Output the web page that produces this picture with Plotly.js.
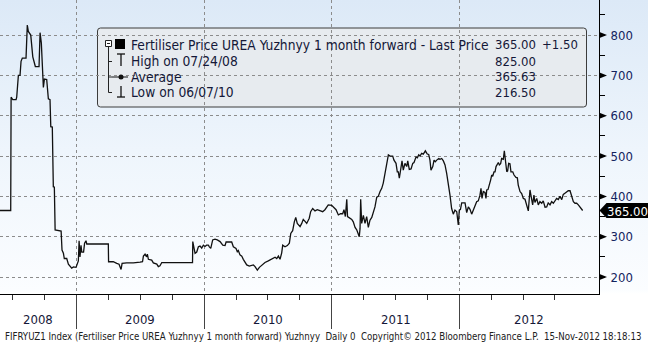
<!DOCTYPE html>
<html><head><meta charset="utf-8">
<script src="https://cdn.plot.ly/plotly-3.0.1.min.js"></script>
<style>
html,body{margin:0;padding:0;width:648px;height:344px;overflow:hidden;
background:linear-gradient(to bottom,#dce9f7 0px,#eef5fc 150px,#fbfdff 290px,#ffffff 294px,#ffffff 344px);}
#chart{width:648px;height:344px;}
</style></head><body><div id="chart"></div>
<script>
// ---- data (decimal year, price) ----
const years = [
2008.400,2008.484,2008.487,2008.500,2008.526,2008.531,2008.544,2008.557,2008.565,2008.575,
2008.604,2008.614,2008.622,2008.641,2008.657,2008.661,2008.677,2008.706,2008.714,2008.724,
2008.732,2008.740,2008.748,2008.766,2008.779,2008.792,2008.798,2008.810,2008.818,2008.826,
2008.832,2008.879,2008.886,2008.897,2008.904,2008.923,2008.936,2008.949,2008.962,2008.975,
2008.996,2009.014,2009.020,2009.027,2009.035,2009.041,2009.055,2009.063,2009.074,2009.080,
2009.249,2009.251,2009.288,2009.315,2009.333,2009.349,2009.357,2009.393,2009.445,2009.498,
2009.517,2009.524,2009.537,2009.549,2009.555,2009.563,2009.589,2009.602,2009.629,2009.641,
2009.654,2009.668,2009.909,2009.911,2009.921,2009.929,2009.942,2009.955,2009.968,2009.981,
2009.994,2010.007,2010.019,2010.033,2010.041,2010.052,2010.067,2010.085,2010.103,2010.125,
2010.146,2010.164,2010.172,2010.203,2010.216,2010.229,2010.250,2010.260,2010.268,2010.281,
2010.295,2010.307,2010.334,2010.354,2010.386,2010.399,2010.417,2010.433,2010.451,2010.477,
2010.503,2010.530,2010.556,2010.569,2010.582,2010.595,2010.608,2010.616,2010.634,2010.652,
2010.668,2010.679,2010.694,2010.707,2010.718,2010.730,2010.752,2010.765,2010.777,2010.791,
2010.804,2010.824,2010.835,2010.851,2010.869,2010.887,2010.908,2010.929,2010.947,2010.973,
2011.000,2011.013,2011.034,2011.052,2011.069,2011.086,2011.096,2011.107,2011.118,2011.124,
2011.138,2011.157,2011.169,2011.183,2011.196,2011.208,2011.216,2011.222,2011.227,2011.235,
2011.248,2011.261,2011.274,2011.287,2011.300,2011.314,2011.326,2011.339,2011.353,2011.365,
2011.379,2011.392,2011.404,2011.418,2011.431,2011.444,2011.457,2011.478,2011.488,2011.504,
2011.514,2011.522,2011.530,2011.541,2011.551,2011.561,2011.574,2011.588,2011.596,2011.608,
2011.622,2011.635,2011.645,2011.661,2011.671,2011.682,2011.692,2011.705,2011.718,2011.734,
2011.749,2011.760,2011.770,2011.778,2011.792,2011.802,2011.812,2011.823,2011.839,2011.849,
2011.862,2011.875,2011.888,2011.901,2011.914,2011.927,2011.940,2011.953,2011.966,2011.980,
2011.992,2012.000,2012.009,2012.019,2012.045,2012.058,2012.071,2012.084,2012.097,2012.110,
2012.123,2012.136,2012.149,2012.162,2012.170,2012.178,2012.188,2012.201,2012.209,2012.215,
2012.225,2012.235,2012.246,2012.254,2012.262,2012.272,2012.280,2012.288,2012.298,2012.306,
2012.314,2012.324,2012.332,2012.345,2012.353,2012.361,2012.372,2012.379,2012.387,2012.397,
2012.405,2012.419,2012.429,2012.444,2012.455,2012.462,2012.476,2012.489,2012.502,2012.515,
2012.528,2012.541,2012.554,2012.562,2012.575,2012.585,2012.593,2012.607,2012.619,2012.632,
2012.646,2012.658,2012.672,2012.685,2012.697,2012.711,2012.724,2012.737,2012.750,2012.763,
2012.776,2012.789,2012.803,2012.815,2012.828,2012.842,2012.854,2012.868,2012.881,2012.894,
2012.907,2012.920,2012.933,2012.946,2012.959,2012.967
];
const prices = [
365,365,646,640,640,646,700,700,735,743,
743,825,809,800,746,740,722,722,806,780,
720,670,691,690,642,640,573,572,424,423,
317,314,267,259,246,246,232,226,222,225,
224,240,290,250,279,262,262,284,290,282,
282,238,238,234,232,219,234,235,235,237,
238,252,257,250,257,244,242,235,232,226,
228,236,236,288,267,259,262,275,277,272,
279,276,279,279,275,271,292,294,292,288,
279,278,287,286,287,275,271,263,266,255,
252,244,230,227,230,226,217,224,230,236,
240,244,249,246,252,244,260,279,275,278,
284,308,315,337,348,333,325,333,343,338,
333,346,362,370,364,367,364,362,367,379,
378,374,367,354,357,357,367,350,393,350,
346,343,337,323,317,304,300,320,393,333,
353,333,350,323,341,348,362,374,398,400,
412,420,433,458,490,503,500,500,490,482,
461,461,445,474,488,465,482,474,488,467,
468,482,484,498,496,503,500,507,505,513,
505,504,490,465,474,490,486,490,494,492,
494,488,478,457,433,403,370,356,366,362,
329,366,368,384,384,360,374,368,356,366,
379,387,389,403,420,395,412,410,395,416,
417,433,441,453,450,461,461,474,482,484,
478,481,494,492,513,490,461,463,482,481,
461,461,453,447,446,428,412,407,395,393,
379,364,416,403,379,403,385,395,379,387,
383,389,373,374,384,379,387,383,391,395,
392,400,392,405,408,412,414,414,403,387,
383,383,379,374,368,365
];
const yearTicks = [2009, 2010, 2011, 2012];
const yearLabels = ['2008', '2009', '2010', '2011', '2012'];
const priceTicks = [200, 300, 400, 500, 600, 700, 800];
const lastPrice = 365.00;
const lastChange = '+1.50';
const seriesName = 'Fertiliser Price UREA Yuzhnyy 1 month forward - Last Price';
const statLabels = ['High on 07/24/08', 'Average', 'Low on 06/07/10'];
const statValues = [825.00, 365.63, 216.50];
const footerText = 'FIFRYUZ1 Index (Fertiliser Price UREA Yuzhnyy 1 month forward) Yuzhnyy\u00a0 Daily 0\u00a0 Copyright\u00a9 2012 Bloomberg Finance L.P.\u00a0 15-Nov-2012 18:18:13';

// ---- layout helpers ----
const X0 = 2008.400, X1 = 2013.095, Y0 = 158, Y1 = 887;
const W = 599, H = 294;
const FONT = 'DejaVu Sans Condensed, DejaVu Sans, sans-serif';
const TXT = '#141838';
const px = x => x / W;
const py = y => (H - y) / H;
const vy = v => (v - Y0) / (Y1 - Y0);

const shapes = [];
const annotations = [];
function line(x0, y0, x1, y1, color, w) {
  shapes.push({type: 'line', xref: 'paper', yref: 'paper', x0: px(x0), y0: py(y0), x1: px(x1), y1: py(y1),
    line: {color: color || '#111', width: w || 1}});
}
function path(pts, fill, lineColor, layer) {
  const d = pts.map((p, i) => (i ? 'L' : 'M') + px(p[0]) + ',' + py(p[1])).join(' ') + ' Z';
  shapes.push({type: 'path', xref: 'paper', yref: 'paper', path: d, fillcolor: fill,
    line: {color: lineColor || fill, width: lineColor ? 1 : 0}, layer: layer || 'above'});
}

// legend box (under gridlines)
(function () {
  const l = 97.5, r = 586.5, t = 28, b = 107, rr = 3;
  const P = (x, y) => px(x) + ',' + py(y);
  const d = 'M' + P(l + rr, t) + ' L' + P(r - rr, t) + ' Q' + P(r, t) + ' ' + P(r, t + rr) +
    ' L' + P(r, b - rr) + ' Q' + P(r, b) + ' ' + P(r - rr, b) + ' L' + P(l + rr, b) +
    ' Q' + P(l, b) + ' ' + P(l, b - rr) + ' L' + P(l, t + rr) + ' Q' + P(l, t) + ' ' + P(l + rr, t) + ' Z';
  shapes.push({type: 'path', xref: 'paper', yref: 'paper', path: d, fillcolor: '#e7ebef',
    line: {color: '#3c3c3c', width: 1}, layer: 'below'});
})();

// legend icons
const rowY = [45, 61.5, 77, 92.5];
path([[105.5, 40.5], [111.5, 40.5], [111.5, 46.5], [105.5, 46.5]], '#ffffff', '#222');
line(107, 43.5, 110, 43.5, '#222', 1);
path([[115, 39], [125, 39], [125, 49], [115, 49]], '#000000');
line(108.5, 46.5, 108.5, rowY[3], '#222', 1);
for (let i = 1; i < 4; i++) line(108.5, rowY[i], 112, rowY[i], '#222', 1);
line(117, 54, 125, 54, '#111', 1.3); line(121, 54, 121, 66, '#111', 1.3);
line(112, rowY[2], 128, rowY[2], '#111', 1);
shapes.push({type: 'circle', xref: 'paper', yref: 'paper', x0: px(118.5), x1: px(123.5), y0: py(79.5), y1: py(74.5),
  fillcolor: '#111', line: {color: '#111', width: 0}});
line(121, 86, 121, 97, '#111', 1.3); line(117, 97, 125, 97, '#111', 1.3);

// legend text
const legFont = {family: FONT, size: 13.7, color: TXT};
const numFont = {family: FONT, size: 13, color: TXT};
function text(x, y, s, anchor, font) {
  annotations.push({xref: 'paper', yref: 'paper', x: px(x), y: py(y), text: s, showarrow: false,
    xanchor: anchor || 'left', yanchor: 'middle', font: font || legFont});
}
text(129, rowY[0], seriesName);
text(538, rowY[0], lastPrice.toFixed(2), 'right', numFont);
text(580, rowY[0], lastChange, 'right', numFont);
statLabels.forEach((s, i) => {
  text(129, rowY[i + 1], s);
  text(538, rowY[i + 1], statValues[i].toFixed(2), 'right', numFont);
});

// y-axis triangle tick marks
priceTicks.forEach(v => {
  const yy = H - vy(v) * H;
  path([[599.5, yy - 3], [607, yy], [599.5, yy + 3]], '#000000');
});

// last price flag
(function () {
  const yy = H - vy(lastPrice) * H;
  path([[599.5, yy], [606.5, yy - 7.5], [648, yy - 7.5], [648, yy + 7.5], [606.5, yy + 7.5]], '#000000');
  text(627.5, yy + 0.5, lastPrice.toFixed(2), 'center', {family: FONT, size: 13, color: '#ffffff'});
})();

// year labels centred on visible segments
const bounds = [X0].concat(yearTicks, [X1]);
yearLabels.forEach((lab, i) => {
  annotations.push({xref: 'x', yref: 'paper', x: (bounds[i] + bounds[i + 1]) / 2, y: py(319),
    text: lab, showarrow: false, xanchor: 'center', yanchor: 'middle',
    font: {family: FONT, size: 13, color: TXT}});
});
// footer
annotations.push({xref: 'paper', yref: 'paper', x: px(3), y: py(336.5), text: footerText, showarrow: false,
  xanchor: 'left', yanchor: 'middle', font: {family: FONT, size: 9.6, color: '#202020'}});

const minorX = [];
for (let q = 2008.5; q < X1; q += 0.25) if (Math.abs(q - Math.round(q)) > 0.01) minorX.push(q);

const trace = {
  x: years, y: prices, type: 'scatter', mode: 'lines',
  line: {color: '#111111', width: 1.3}, hoverinfo: 'skip', showlegend: false
};

const layout = {
  width: 648, height: 344,
  margin: {l: 0, r: 49, t: 0, b: 50, pad: 0},
  paper_bgcolor: 'rgba(0,0,0,0)', plot_bgcolor: 'rgba(0,0,0,0)',
  showlegend: false,
  xaxis: {
    range: [X0, X1], tickmode: 'array', tickvals: yearTicks, showticklabels: false,
    ticks: 'outside', ticklen: 34, tickwidth: 1, tickcolor: '#444',
    showgrid: true, gridcolor: '#8c8c8c', griddash: '3px,3px', gridwidth: 1,
    showline: true, linecolor: '#000', linewidth: 1, zeroline: false, fixedrange: true,
    minor: {tickmode: 'array', tickvals: minorX, ticks: 'outside', ticklen: 5, tickcolor: '#333', showgrid: false}
  },
  yaxis: {
    side: 'right', range: [Y0, Y1], tickmode: 'array', tickvals: priceTicks,
    ticks: 'outside', ticklen: 8, tickcolor: 'rgba(0,0,0,0)',
    tickfont: {family: FONT, size: 13, color: '#13235e'},
    showgrid: true, gridcolor: '#8c8c8c', griddash: '3px,3px', gridwidth: 1,
    showline: true, linecolor: '#000', linewidth: 1, zeroline: false, fixedrange: true,
    minor: {dtick: 50, tick0: 150, ticks: 'outside', ticklen: 5, tickcolor: '#000', showgrid: false}
  },
  shapes: shapes,
  annotations: annotations
};

Plotly.newPlot('chart', [trace], layout, {displayModeBar: false, staticPlot: true});
</script>
</body></html>
